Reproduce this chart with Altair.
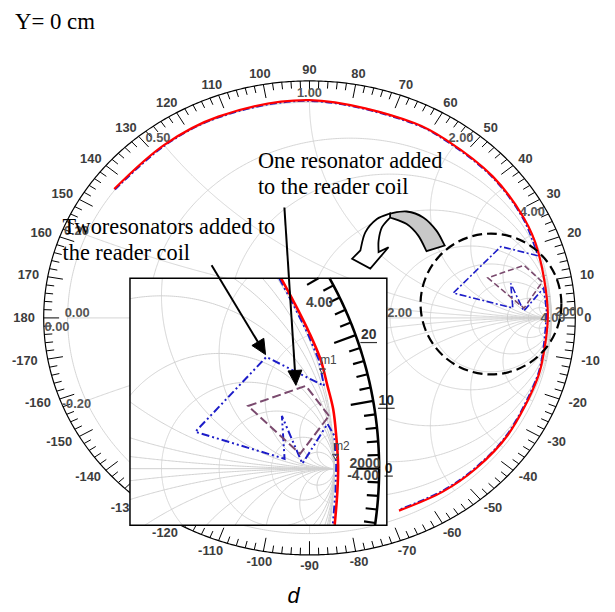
import math
import numpy as np
import pandas as pd
import altair as alt

# ================= values =================
# Main Smith chart, in units of the outer angle-ring radius (ring = 1).
RED_ANG = [143.5, 126.8, 112.0, 90.0, 64.4, 55.3, 40.9, 27.5, 18.4, 1.3,
           -10.5, -16.7, -33.5, -45.4, -55.6, -67.5]
RED_MAG = [0.914, 0.912, 0.916, 0.919, 0.912, 0.910, 0.912, 0.910, 0.905, 0.897,
           0.894, 0.895, 0.895, 0.892, 0.888, 0.880]

BLUE_ARC1_ANG = [143.5, 126.8, 112.0, 90.0, 64.4, 55.3, 40.9, 27.5, 17.0]
BLUE_ARC1_MAG = [0.910, 0.908, 0.912, 0.915, 0.908, 0.906, 0.908, 0.906, 0.898]
BLUE_LOOP_X = [0.720, 0.541, 0.765, 0.757, 0.806, 0.881]
BLUE_LOOP_Y = [0.301, 0.105, 0.042, 0.146, 0.029, 0.126]
BLUE_ARC2_ANG = [1.3, -10.5, -16.7, -33.5, -45.4, -55.6, -67.5]
BLUE_ARC2_MAG = [0.893, 0.890, 0.891, 0.891, 0.888, 0.884, 0.876]

PURPLE_X = [0.876, 0.807, 0.671, 0.807, 0.876]
PURPLE_Y = [0.152, 0.222, 0.169, 0.041, 0.152]

# Inset (zoom of the dashed circle), same units.
IN_RED_X = [0.770, 0.805, 0.844, 0.874, 0.892, 0.907, 0.915, 0.920, 0.918, 0.911]
IN_RED_Y = [0.501, 0.436, 0.358, 0.287, 0.218, 0.157, 0.087, 0.009, -0.061, -0.148]
IN_BLUE_X = [0.765, 0.800, 0.839, 0.869, 0.883, 0.731, 0.544, 0.779, 0.772, 0.826,
             0.892, 0.910, 0.915, 0.913, 0.906]
IN_BLUE_Y = [0.501, 0.436, 0.358, 0.287, 0.218, 0.294, 0.097, 0.026, 0.139, 0.013,
             0.118, 0.087, 0.009, -0.061, -0.148]
IN_PURPLE_X = [0.896, 0.835, 0.683, 0.820, 0.896]
IN_PURPLE_Y = [0.139, 0.218, 0.165, 0.039, 0.139]
MARK_X = [0.879, 0.913]
MARK_Y = [0.256, 0.031]
MARK_LBL = ["m1", "m2"]

# Smith-chart grid and label values
R_CIRCLES = [0.2, 0.5, 1, 2, 3, 5, 10, 20]
X_ARCS = [0.2, 0.5, 1, 2, 3, 5, 10, 20]
R_LABELS = [0.0, 0.2, 0.5, 1.0, 2.0]
X_LABELS = [1.0, 0.5, 2.0, 4.0, 0.2, -0.2]
ANGLE_LABELS = list(range(-170, 181, 10))
INSET_ANGLE_LABELS = [20, 10, 0]

# ================= layout (page pixels) =================
W, H, M = 604, 600, 8
MCX, MCY, MKX, MKY = 312.0, 318.0, 268.0, 239.0     # main chart centre / px per unit
ICX, ICY, IK = -11.5, 470.0, 383.0                 # inset centre / px per unit
BOX = (131, 278, 390, 527)
GRID_S = 0.91
IN_RING = 1.028


def pv(p):
    return p - M


XS_MAIN = alt.Scale(domain=[(M - MCX) / MKX, (M + W - MCX) / MKX], nice=False, zero=False)
YS_MAIN = alt.Scale(domain=[(MCY - M - H) / MKY, (MCY - M) / MKY], nice=False, zero=False)
XS_IN = alt.Scale(domain=[(M - ICX) / IK, (M + W - ICX) / IK], nice=False, zero=False)
YS_IN = alt.Scale(domain=[(ICY - M - H) / IK, (ICY - M) / IK], nice=False, zero=False)
WIN = ((BOX[0] - ICX) / IK, (BOX[2] - ICX) / IK, (ICY - BOX[3]) / IK, (ICY - BOX[1]) / IK)


def enc(xs, ys, xf="x", yf="y"):
    return dict(x=alt.X(f"{xf}:Q", scale=xs, axis=None), y=alt.Y(f"{yf}:Q", scale=ys, axis=None))


def smith_curves():
    curves = []
    u = np.linspace(-np.pi / 2 + 1e-4, np.pi / 2 - 1e-4, 721)
    for r in [0] + R_CIRCLES:
        z = r + 1j * np.tan(u)
        curves.append((z - 1) / (z + 1) * GRID_S)
    curves.append(np.array([-1 + 0j, 1 + 0j]) * GRID_S)
    v = np.linspace(0, np.pi / 2 - 1e-4, 500)
    for xv in X_ARCS:
        for sg in (1, -1):
            z = np.tan(v) + 1j * sg * xv
            curves.append((z - 1) / (z + 1) * GRID_S)
    return curves


def clip_seg(x0, y0, x1, y1, win):
    xmin, xmax, ymin, ymax = win
    dx, dy = x1 - x0, y1 - y0
    t0, t1 = 0.0, 1.0
    for p, q in ((-dx, x0 - xmin), (dx, xmax - x0), (-dy, y0 - ymin), (dy, ymax - y0)):
        if p == 0:
            if q < 0:
                return None
        else:
            t = q / p
            if p < 0:
                t0 = max(t0, t)
            else:
                t1 = min(t1, t)
    if t0 > t1:
        return None
    return t0, t1, (x0 + t0 * dx, y0 + t0 * dy), (x0 + t1 * dx, y0 + t1 * dy)


def clip_poly(pts, win):
    out, cur = [], []
    for (x0, y0), (x1, y1) in zip(pts[:-1], pts[1:]):
        res = clip_seg(x0, y0, x1, y1, win)
        if res is None:
            if cur:
                out.append(cur)
                cur = []
            continue
        t0, t1, a, b = res
        if t0 > 0 and cur:
            out.append(cur)
            cur = []
        if not cur:
            cur = [a]
        cur.append(b)
        if t1 < 1:
            out.append(cur)
            cur = []
    if cur:
        out.append(cur)
    return [c for c in out if len(c) > 1]


def lines_df(polys):
    rows = []
    for i, pl in enumerate(polys):
        for j, (x, y) in enumerate(pl):
            rows.append({"x": x, "y": y, "id": i, "ord": j})
    return pd.DataFrame(rows)


def polar_df(angs, mags):
    return pd.DataFrame({
        "x": [m * math.cos(math.radians(a)) for a, m in zip(angs, mags)],
        "y": [m * math.sin(math.radians(a)) for a, m in zip(angs, mags)],
        "ord": list(range(len(angs)))})


def xy_df(xs, ys):
    return pd.DataFrame({"x": xs, "y": ys, "ord": list(range(len(xs)))})


ONE = pd.DataFrame({"a": [0]})

# ================= main chart =================
grid_polys = [[(c.real, c.imag) for c in cv] for cv in smith_curves()]
grid_main = alt.Chart(lines_df(grid_polys)).mark_line(color="#d0d0d0", strokeWidth=0.9).encode(
    detail="id:N", order="ord:Q", **enc(XS_MAIN, YS_MAIN))

th = np.linspace(0, 2 * np.pi, 721)
ring_main = alt.Chart(lines_df([list(zip(np.cos(th), np.sin(th)))])).mark_line(
    color="black", strokeWidth=1.2).encode(detail="id:N", order="ord:Q", **enc(XS_MAIN, YS_MAIN))

tick_rows = []
for a in range(-180, 180, 2):
    L = 0.058 if a % 10 == 0 else 0.03
    c, s = math.cos(math.radians(a)), math.sin(math.radians(a))
    tick_rows.append({"x": c, "y": s, "x2": (1 - L) * c, "y2": (1 - L) * s})
ticks_main = alt.Chart(pd.DataFrame(tick_rows)).mark_rule(color="black", strokeWidth=1).encode(
    x2="x2:Q", y2="y2:Q", **enc(XS_MAIN, YS_MAIN))

ang_rows = []
for a in ANGLE_LABELS:
    lab = str(a)
    c, s = math.cos(math.radians(a)), math.sin(math.radians(a))
    ang_rows.append({"x": c * (1 + (9 + 3.6 * len(lab)) / MKX), "y": s * (1 + 11 / MKY), "t": lab})
angle_text = alt.Chart(pd.DataFrame(ang_rows)).mark_text(
    font="Liberation Sans", fontSize=13, fontWeight="bold", color="#3c3c3c",
    align="center", baseline="middle").encode(text="t:N", **enc(XS_MAIN, YS_MAIN))

xl_rows = []
for xv in X_LABELS:
    t = math.atan2(2 * xv, xv * xv - 1)
    xl_rows.append({"x": 0.95 * math.cos(t), "y": 0.95 * math.sin(t), "t": "%.2f" % xv})
xlab_text = alt.Chart(pd.DataFrame(xl_rows)).mark_text(
    font="Liberation Sans", fontSize=13, fontWeight="bold", color="#555555",
    align="center", baseline="middle").encode(text="t:N", **enc(XS_MAIN, YS_MAIN))
x0_text = alt.Chart(pd.DataFrame([{"x": -0.95, "y": 0.0, "t": "0.00"}])).mark_text(
    font="Liberation Sans", fontSize=13, fontWeight="bold", color="#555555",
    align="center", baseline="middle", dy=9).encode(text="t:N", **enc(XS_MAIN, YS_MAIN))

rl_rows = [{"x": GRID_S * (r - 1) / (r + 1), "y": 0.0, "t": "%.2f" % r} for r in R_LABELS]
rlab_text = alt.Chart(pd.DataFrame(rl_rows)).mark_text(
    font="Liberation Sans", fontSize=13, fontWeight="bold", color="#555555",
    align="left", baseline="alphabetic", dx=-3, dy=-1).encode(text="t:N", **enc(XS_MAIN, YS_MAIN))


def ptext(txt, px, py, size=13, color="#555555", weight="bold", font="Liberation Sans",
          align="center", baseline="middle", style="normal"):
    return alt.Chart(ONE).mark_text(text=txt, font=font, fontSize=size, fontWeight=weight,
                                    color=color, align=align, baseline=baseline,
                                    fontStyle=style).encode(x=alt.value(pv(px)), y=alt.value(pv(py)))


conv_texts = [ptext("4.00", 557.5, 318), ptext("2000", 574, 312)]

BLUE_DASH_M = [7, 2.5, 2, 2.5]
blue_a1 = alt.Chart(polar_df(BLUE_ARC1_ANG, BLUE_ARC1_MAG)).mark_line(
    color="#1c1cc8", strokeWidth=1.6, strokeDash=BLUE_DASH_M, interpolate="catmull-rom").encode(
    order="ord:Q", **enc(XS_MAIN, YS_MAIN))
g_end = polar_df(BLUE_ARC1_ANG[-1:], BLUE_ARC1_MAG[-1:])
g_start = polar_df(BLUE_ARC2_ANG[:1], BLUE_ARC2_MAG[:1])
loop_x = [g_end.x[0]] + BLUE_LOOP_X + [g_start.x[0]]
loop_y = [g_end.y[0]] + BLUE_LOOP_Y + [g_start.y[0]]
blue_loop = alt.Chart(xy_df(loop_x, loop_y)).mark_line(
    color="#1c1cc8", strokeWidth=1.6, strokeDash=BLUE_DASH_M).encode(order="ord:Q", **enc(XS_MAIN, YS_MAIN))
blue_a2 = alt.Chart(polar_df(BLUE_ARC2_ANG, BLUE_ARC2_MAG)).mark_line(
    color="#1c1cc8", strokeWidth=1.6, strokeDash=BLUE_DASH_M, interpolate="catmull-rom").encode(
    order="ord:Q", **enc(XS_MAIN, YS_MAIN))
purple_main = alt.Chart(xy_df(PURPLE_X, PURPLE_Y)).mark_line(
    color="#7a4a6e", strokeWidth=1.6, strokeDash=[6, 3]).encode(order="ord:Q", **enc(XS_MAIN, YS_MAIN))
red_main = alt.Chart(polar_df(RED_ANG, RED_MAG)).mark_line(
    color="#ff0000", strokeWidth=2.2, interpolate="catmull-rom").encode(order="ord:Q", **enc(XS_MAIN, YS_MAIN))

dashed_circle = alt.Chart(ONE).mark_point(
    shape="circle", size=142 * 142, filled=False, stroke="black", strokeWidth=2.2,
    strokeDash=[10, 5], opacity=1).encode(x=alt.value(pv(495)), y=alt.value(pv(304)))

main = alt.layer(grid_main, ring_main, ticks_main, angle_text, xlab_text, x0_text, rlab_text,
                 *conv_texts, blue_a1, blue_loop, blue_a2, purple_main, red_main, dashed_circle)

# ================= inset =================
box_fill = alt.Chart(ONE).mark_rect(color="white", opacity=1).encode(
    x=alt.value(pv(BOX[0])), x2=alt.value(pv(BOX[2])), y=alt.value(pv(BOX[1])), y2=alt.value(pv(BOX[3])))
box_line = alt.Chart(ONE).mark_rect(filled=False, stroke="black", strokeWidth=1.5).encode(
    x=alt.value(pv(BOX[0])), x2=alt.value(pv(BOX[2])), y=alt.value(pv(BOX[1])), y2=alt.value(pv(BOX[3])))

in_grid = []
for pl in grid_polys:
    in_grid += clip_poly(pl, WIN)
grid_in = alt.Chart(lines_df(in_grid)).mark_line(color="#d0d0d0", strokeWidth=1).encode(
    detail="id:N", order="ord:Q", **enc(XS_IN, YS_IN))

ring_in_polys = clip_poly(list(zip(IN_RING * np.cos(th), IN_RING * np.sin(th))), WIN)
ring_in = alt.Chart(lines_df(ring_in_polys)).mark_line(color="black", strokeWidth=2.6).encode(
    detail="id:N", order="ord:Q", **enc(XS_IN, YS_IN))

in_ticks = []
for a in range(-180, 180, 2):
    L = 0.06 if a % 10 == 0 else 0.03
    c, s = math.cos(math.radians(a)), math.sin(math.radians(a))
    res = clip_seg(IN_RING * c, IN_RING * s, (IN_RING - L) * c, (IN_RING - L) * s, WIN)
    if res is not None and res[1] > res[0]:
        (x0, y0), (x1, y1) = res[2], res[3]
        in_ticks.append({"x": x0, "y": y0, "x2": x1, "y2": y1})
ticks_in = alt.Chart(pd.DataFrame(in_ticks)).mark_rule(color="black", strokeWidth=2.2).encode(
    x2="x2:Q", y2="y2:Q", **enc(XS_IN, YS_IN))

ia_rows, ul_rows = [], []
for a in INSET_ANGLE_LABELS:
    lab = str(a)
    c, s = math.cos(math.radians(a)), math.sin(math.radians(a))
    x = IN_RING * c + (6 + 3.6 * len(lab)) / IK
    y = IN_RING * s
    ia_rows.append({"x": x, "y": y, "t": lab})
    hw = 4.2 * len(lab) / IK
    ul_rows.append({"x": x - hw, "x2": x + hw, "y": y - 7.5 / IK, "y2": y - 7.5 / IK})
in_angle = alt.Chart(pd.DataFrame(ia_rows)).mark_text(
    font="Liberation Sans", fontSize=14, fontWeight="bold", color="#333333",
    align="center", baseline="middle").encode(text="t:N", **enc(XS_IN, YS_IN))
in_ul = alt.Chart(pd.DataFrame(ul_rows)).mark_rule(color="#333333", strokeWidth=1.2).encode(
    x2="x2:Q", y2="y2:Q", **enc(XS_IN, YS_IN))

blue_in = alt.Chart(xy_df(IN_BLUE_X, IN_BLUE_Y)).mark_line(
    color="#1c1cc8", strokeWidth=2, strokeDash=[8, 3, 2, 3, 2, 3]).encode(order="ord:Q", **enc(XS_IN, YS_IN))
purple_in = alt.Chart(xy_df(IN_PURPLE_X, IN_PURPLE_Y)).mark_line(
    color="#7a4a6e", strokeWidth=2, strokeDash=[9, 4]).encode(order="ord:Q", **enc(XS_IN, YS_IN))
red_in = alt.Chart(xy_df(IN_RED_X, IN_RED_Y)).mark_line(
    color="#ff0000", strokeWidth=2.6, interpolate="catmull-rom").encode(order="ord:Q", **enc(XS_IN, YS_IN))

mk_df = pd.DataFrame({"x": MARK_X, "y": MARK_Y, "t": MARK_LBL})
markers = alt.Chart(mk_df).mark_point(shape="triangle-down", size=36, filled=False,
                                      stroke="#444444", strokeWidth=1, opacity=1).encode(**enc(XS_IN, YS_IN))
marker_txt = alt.Chart(mk_df).mark_text(font="Liberation Sans", fontSize=12, color="#444444",
                                        align="center", baseline="middle", dx=6, dy=-11).encode(
    text="t:N", **enc(XS_IN, YS_IN))

in_texts = [ptext("4.00", 322, 303, size=14, color="#444444"),
            ptext("2000", 368, 465, size=14, color="#444444"),
            ptext("-4.00", 366, 477, size=14, color="#444444")]

# ================= annotations =================
SERIF = "Liberation Serif"
notes = [
    ptext("Y= 0 cm", 15, 27, size=23, color="black", weight="normal", font=SERIF,
          align="left", baseline="alphabetic"),
    ptext("One resonator added", 260, 166.5, size=22.5, color="black", weight="normal", font=SERIF,
          align="left", baseline="alphabetic"),
    ptext("to the reader coil", 260, 193.5, size=22.5, color="black", weight="normal", font=SERIF,
          align="left", baseline="alphabetic"),
    ptext("Tworesonators added to", 63, 233, size=22.5, color="black", weight="normal", font=SERIF,
          align="left", baseline="alphabetic"),
    ptext("the reader coil", 63, 260, size=22.5, color="black", weight="normal", font=SERIF,
          align="left", baseline="alphabetic"),
    ptext("d", 296, 605, size=22, color="black", weight="normal", align="center",
          baseline="alphabetic", style="italic"),
]


def arrow(x0, y0, x1, y1, L=15, hw=7):
    dx, dy = x1 - x0, y1 - y0
    n = math.hypot(dx, dy)
    ux, uy = dx / n, dy / n
    bx, by = x1 - L * ux, y1 - L * uy
    shaft = alt.Chart(ONE).mark_rule(color="black", strokeWidth=2).encode(
        x=alt.value(pv(x0)), y=alt.value(pv(y0)), x2=alt.value(pv(bx)), y2=alt.value(pv(by)))
    w1 = (-L * ux - hw * uy, -L * uy + hw * ux)
    w2 = (-L * ux + hw * uy, -L * uy - hw * ux)
    path = "M0,0 L%.2f,%.2f L%.2f,%.2f Z" % (w1[0], w1[1], w2[0], w2[1])
    head = alt.Chart(ONE).mark_point(shape=path, size=4, filled=True, fill="black", stroke="black",
                                     strokeWidth=1, opacity=1).encode(x=alt.value(pv(x1)), y=alt.value(pv(y1)))
    return [shaft, head]


def cr(points):
    P = [np.array(p, float) for p in points]
    out = []
    for i in range(len(P) - 1):
        p0 = P[i - 1] if i > 0 else P[i]
        p1, p2 = P[i], P[i + 1]
        p3 = P[i + 2] if i + 2 < len(P) else P[i + 1]
        c1 = p1 + (p2 - p0) / 6
        c2 = p2 - (p3 - p1) / 6
        out.append("C%.2f,%.2f %.2f,%.2f %.2f,%.2f" % (c1[0], c1[1], c2[0], c2[1], p2[0], p2[1]))
    return " ".join(out)


AX, AY = 406.0, 240.0


def rel(pts):
    return [(x - AX, y - AY) for x, y in pts]


g_outer = rel([(393.3, 212.7), (410, 210.7), (426.7, 216.7), (440, 230), (448.3, 245)])
g_inner = rel([(430, 250.7), (421.7, 235), (410, 223.3), (393.3, 216.7)])
grey_path = "M%.2f,%.2f %s L%.2f,%.2f %s Z" % (g_outer[0] + (cr(g_outer),) + g_inner[0] + (cr(g_inner),))
w_outer = rel([(393.3, 212.7), (380, 218.3), (368.3, 231.7), (363.3, 250)])
w_head = rel([(355, 258.3), (373.3, 268.3), (391.7, 246.7), (381.7, 251.7)])
w_inner = rel([(381.7, 251.7), (381.7, 240), (385, 226.7), (393.3, 216.7)])
white_path = ("M%.2f,%.2f %s " % (w_outer[0] + (cr(w_outer),)) +
              " ".join("L%.2f,%.2f" % p for p in w_head) + " " + cr(w_inner) + " Z")
curved = [
    alt.Chart(ONE).mark_point(shape=grey_path, size=4, filled=True, fill="#c8c8c8", stroke="black",
                              strokeWidth=1.8, opacity=1).encode(x=alt.value(pv(AX)), y=alt.value(pv(AY))),
    alt.Chart(ONE).mark_point(shape=white_path, size=4, filled=True, fill="white", stroke="black",
                              strokeWidth=1.8, opacity=1).encode(x=alt.value(pv(AX)), y=alt.value(pv(AY))),
]

arrows = arrow(286.7, 206.7, 298.3, 386) + arrow(213.3, 265, 267.7, 355)

inset = alt.layer(box_fill, grid_in, ring_in, ticks_in, in_angle, in_ul, blue_in, purple_in, red_in,
                  markers, marker_txt, *in_texts, box_line, *notes, *arrows, *curved)

chart = alt.layer(main, inset).resolve_scale(x="independent", y="independent").properties(
    width=W, height=H, padding=0, background="white", autosize=alt.AutoSizeParams(type="none")
).configure_view(strokeWidth=0, stroke=None)

chart.save("out.html", embed_options={"renderer": "svg", "actions": False})
